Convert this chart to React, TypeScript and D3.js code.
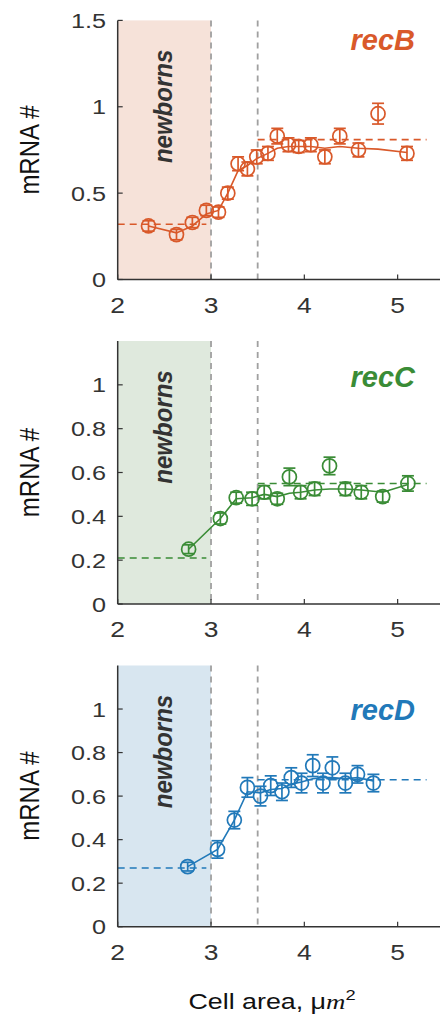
import React from "react";
import * as d3 from "d3";

// recB
const recBX = [2.33, 2.63, 2.8, 2.95, 3.08, 3.18, 3.29, 3.39, 3.49, 3.61, 3.71, 3.83, 3.94, 4.07, 4.22, 4.38, 4.58, 4.79, 5.1];
const recBY = [0.31, 0.26, 0.33, 0.4, 0.39, 0.5, 0.67, 0.64, 0.71, 0.73, 0.83, 0.78, 0.77, 0.78, 0.71, 0.83, 0.75, 0.96, 0.73];
const recBErr = [0.03, 0.03, 0.03, 0.03, 0.03, 0.035, 0.04, 0.04, 0.04, 0.04, 0.045, 0.04, 0.035, 0.04, 0.04, 0.045, 0.04, 0.06, 0.04];
const recBFit = [0.31, 0.27, 0.31, 0.38, 0.4, 0.5, 0.63, 0.66, 0.7, 0.73, 0.76, 0.77, 0.77, 0.77, 0.76, 0.77, 0.76, 0.755, 0.735];
const recBLevels = [0.32, 0.81];

// recC
const recCX = [2.76, 3.1, 3.27, 3.44, 3.57, 3.71, 3.84, 3.96, 4.11, 4.27, 4.44, 4.61, 4.84, 5.11];
const recCY = [0.25, 0.39, 0.485, 0.48, 0.51, 0.48, 0.58, 0.51, 0.525, 0.63, 0.525, 0.51, 0.49, 0.55];
const recCErr = [0.02, 0.025, 0.025, 0.03, 0.03, 0.025, 0.04, 0.03, 0.03, 0.04, 0.03, 0.03, 0.025, 0.035];
const recCFit = [0.25, 0.39, 0.48, 0.485, 0.5, 0.49, 0.505, 0.51, 0.52, 0.525, 0.525, 0.52, 0.51, 0.545];
const recCLevels = [0.21, 0.55];

// recD
const recDX = [2.75, 3.07, 3.25, 3.39, 3.53, 3.64, 3.76, 3.86, 3.97, 4.09, 4.2, 4.3, 4.44, 4.57, 4.74];
const recDY = [0.276, 0.355, 0.49, 0.64, 0.6, 0.648, 0.62, 0.685, 0.66, 0.74, 0.66, 0.73, 0.66, 0.7, 0.66];
const recDErr = [0.02, 0.04, 0.04, 0.045, 0.045, 0.045, 0.04, 0.045, 0.045, 0.05, 0.045, 0.05, 0.045, 0.04, 0.04];
const recDFit = [0.276, 0.355, 0.49, 0.62, 0.615, 0.63, 0.635, 0.655, 0.665, 0.68, 0.685, 0.685, 0.68, 0.685, 0.67];
const recDLevels = [0.27, 0.675];

const xTicks = [2, 3, 4, 5];
const yTicksB = [0, 0.5, 1, 1.5];
const yTicksCD = [0, 0.2, 0.4, 0.6, 0.8, 1];
const vLines = [3, 3.5];

const panels = [
  { name: "recB", xs: recBX, ys: recBY, err: recBErr, fit: recBFit, levels: recBLevels, yMax: 1.5, ticks: yTicksB, top: 20.4, bottom: 279.5, color: "#d9592a", shade: "#f6e2d9", labelY: 1.33 },
  { name: "recC", xs: recCX, ys: recCY, err: recCErr, fit: recCFit, levels: recCLevels, yMax: 1.2, ticks: yTicksCD, top: 341, bottom: 604, color: "#3a8c36", shade: "#dfe9dd", labelY: 0.99 },
  { name: "recD", xs: recDX, ys: recDY, err: recDErr, fit: recDFit, levels: recDLevels, yMax: 1.2, ticks: yTicksCD, top: 665.5, bottom: 926.7, color: "#2179b9", shade: "#d8e6f0", labelY: 0.95 },
];

const FONT = "Liberation Sans, Arial, Helvetica, sans-serif";
const SX = 1.2;

export default function App() {
  const x = d3.scaleLinear().domain([2, 5.5]).range([117.7, 444.3]);
  return (
    <svg width={440} height={1015} style={{ position: "absolute", left: 0, top: 0, background: "#fff" }}>
      {panels.map((p) => {
        const y = d3.scaleLinear().domain([0, p.yMax]).range([p.bottom, p.top]);
        const line = d3.line<number>().x((_, i) => x(p.xs[i])).y((v) => y(v));
        return (
          <g key={p.name}>
            <rect x={x(2)} y={y(p.yMax)} width={x(3) - x(2)} height={y(0) - y(p.yMax)} fill={p.shade} />
            {vLines.map((v) => (
              <line key={v} x1={x(v)} x2={x(v)} y1={y(p.yMax)} y2={y(0)} stroke="#a0a0a0" strokeWidth={1.8} strokeDasharray="6,5" />
            ))}
            <text transform={`translate(${x(2.58)},${p.top + 86}) rotate(-90) scale(1,1.08)`} textAnchor="middle" fontFamily={FONT} fontWeight="bold" fontStyle="italic" fontSize={24} fill="#333">newborns</text>
            <line x1={x(2)} x2={x(2.95)} y1={y(p.levels[0])} y2={y(p.levels[0])} stroke={p.color} strokeWidth={1.6} strokeDasharray="7,5" />
            <line x1={x(3.5)} x2={x(5.31)} y1={y(p.levels[1])} y2={y(p.levels[1])} stroke={p.color} strokeWidth={1.6} strokeDasharray="7,5" />
            <path d={line(p.fit) || ""} fill="none" stroke={p.color} strokeWidth={1.6} />
            {p.xs.map((xv, i) => {
              const cx = x(xv);
              const y1 = y(p.ys[i] + p.err[i]);
              const y2 = y(p.ys[i] - p.err[i]);
              return (
                <g key={i} stroke={p.color} strokeWidth={1.7} fill="none">
                  <line x1={cx} x2={cx} y1={y1} y2={y2} />
                  <line x1={cx - 6} x2={cx + 6} y1={y1} y2={y1} />
                  <line x1={cx - 6} x2={cx + 6} y1={y2} y2={y2} />
                  <circle cx={cx} cy={y(p.ys[i])} r={7} />
                </g>
              );
            })}
            <text x={415} y={y(p.labelY)} textAnchor="end" fontFamily={FONT} fontWeight="bold" fontStyle="italic" fontSize={29} fill={p.color}>{p.name}</text>
            {/* axes */}
            <line x1={x(2)} x2={440} y1={y(0)} y2={y(0)} stroke="#333" strokeWidth={1.5} />
            <line x1={x(2)} x2={x(2)} y1={y(0)} y2={y(p.yMax)} stroke="#333" strokeWidth={1.5} />
            {xTicks.map((t) => (
              <g key={t}>
                <line x1={x(t)} x2={x(t)} y1={y(0)} y2={y(0) - 5} stroke="#333" strokeWidth={1.2} />
                <text transform={`translate(${x(t)},${y(0) + 33}) scale(${SX},1)`} textAnchor="middle" fontFamily={FONT} fontSize={22} fill="#333">{t}</text>
              </g>
            ))}
            {p.ticks.map((t) => (
              <g key={t}>
                <line x1={x(2)} x2={x(2) + 5} y1={y(t)} y2={y(t)} stroke="#333" strokeWidth={1.2} />
                <text transform={`translate(106,${y(t)}) scale(${SX},1)`} dy="0.36em" textAnchor="end" fontFamily={FONT} fontSize={21} fill="#333">{String(t)}</text>
              </g>
            ))}
            <text transform={`translate(39,${(p.top + p.bottom) / 2}) rotate(-90) scale(1,1.15)`} textAnchor="middle" fontFamily={FONT} fontSize={24} fill="#111">mRNA #</text>
          </g>
        );
      })}
      <text transform={`translate(272,1009) scale(1.22,1)`} textAnchor="middle" fontFamily={FONT} fontSize={22} fill="#111">
        Cell area, μ<tspan fontFamily="Liberation Serif, Times New Roman, serif" fontStyle="italic">m</tspan>
        <tspan fontSize={15} dy={-9}>2</tspan>
      </text>
    </svg>
  );
}
